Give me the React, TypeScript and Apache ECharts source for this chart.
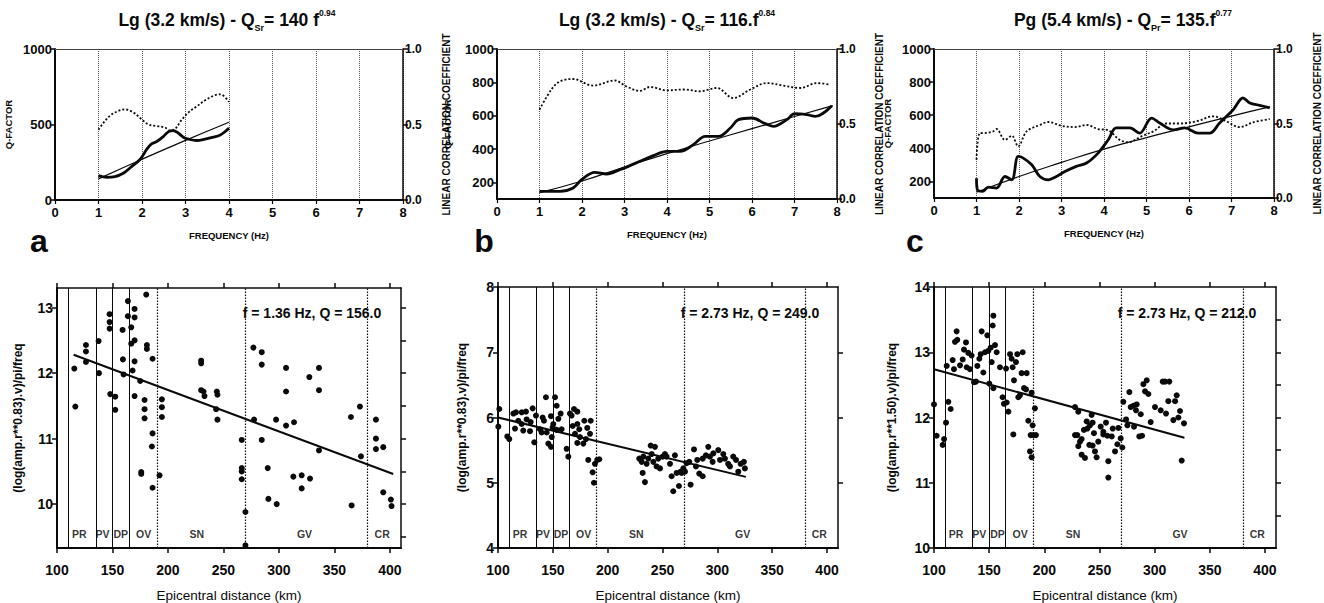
import React, { useEffect, useRef } from 'react';
import * as echarts from 'echarts';

const FONT = '"Liberation Sans", Arial, Helvetica, sans-serif';
const INK = '#0a0a0a';

// ---------------- Top panels : Q(f) and correlation ----------------
const titlesTop = [
  'Lg (3.2 km/s) - Q{sub|Sr}= 140 f{sup|0.94}',
  'Lg (3.2 km/s) - Q{sub|Sr}= 116.f{sup|0.84}',
  'Pg (5.4 km/s) - Q{sub|Pr}= 135.f{sup|0.77}',
];
const freqTicks = [0, 1, 2, 3, 4, 5, 6, 7, 8];
const qTicksA = [0, 500, 1000];
const qTicksBC = [200, 400, 600, 800, 1000];
const rTicks = [0, 0.5, 1];

const qFreqA = [1.0, 1.19, 1.38, 1.57, 1.76, 1.96, 2.11, 2.22, 2.34, 2.49, 2.61, 2.72, 2.84, 2.95, 3.07, 3.26, 3.45, 3.64, 3.8, 3.91, 4.0];
const qValA = [161, 150, 155, 177, 221, 270, 336, 372, 387, 420, 453, 460, 442, 416, 403, 394, 403, 416, 431, 453, 476];
const rFreqA = [1.0, 1.11, 1.27, 1.46, 1.61, 1.8, 1.99, 2.15, 2.34, 2.53, 2.65, 2.76, 2.91, 3.07, 3.26, 3.45, 3.64, 3.8, 4.0];
const rValA = [0.465, 0.51, 0.56, 0.59, 0.6, 0.58, 0.535, 0.5, 0.49, 0.48, 0.46, 0.47, 0.53, 0.58, 0.62, 0.66, 0.69, 0.7, 0.65];
const fitFreqA = [1, 2, 3, 4];
const fitQA = [140, 270, 395, 515];

const qFreqB = [1.0, 1.48, 1.79, 1.99, 2.3, 2.58, 2.89, 3.09, 3.36, 3.68, 3.99, 4.31, 4.62, 4.9, 5.21, 5.49, 5.68, 6.0, 6.31, 6.51, 6.82, 7.0, 7.29, 7.49, 7.88];
const qValB = [146, 146, 166, 216, 260, 250, 276, 296, 326, 360, 386, 386, 426, 476, 476, 526, 576, 586, 552, 536, 576, 612, 606, 596, 660];
const rFreqB = [1.0, 1.28, 1.48, 1.79, 2.26, 2.77, 3.05, 3.36, 3.6, 3.99, 4.39, 4.78, 5.17, 5.56, 5.96, 6.35, 6.74, 7.14, 7.53, 7.84];
const rValB = [0.596, 0.73, 0.784, 0.8, 0.756, 0.79, 0.75, 0.72, 0.747, 0.724, 0.73, 0.718, 0.74, 0.673, 0.73, 0.773, 0.756, 0.74, 0.773, 0.762];
const fitFreqB = [1, 2, 3, 4, 5, 6, 7, 7.9];
const fitQB = [138, 208, 292, 372, 448, 522, 595, 660];

const qFreqC = [1.0, 1.02, 1.14, 1.28, 1.47, 1.67, 1.83, 1.98, 2.1, 2.3, 2.49, 2.69, 2.88, 3.08, 3.35, 3.59, 3.86, 4.1, 4.29, 4.61, 4.84, 5.12, 5.31, 5.63, 5.9, 6.21, 6.49, 6.72, 7.04, 7.27, 7.43, 7.66, 7.9];
const qValC = [220, 150, 140, 166, 160, 230, 210, 351, 341, 301, 230, 210, 230, 260, 291, 311, 371, 452, 523, 523, 492, 583, 553, 512, 523, 492, 492, 553, 633, 704, 674, 660, 645];
const rFreqC = [1.0, 1.08, 1.2, 1.39, 1.47, 1.67, 1.83, 1.98, 2.18, 2.49, 2.69, 2.99, 3.31, 3.59, 3.86, 4.1, 4.37, 4.57, 4.88, 5.16, 5.47, 5.78, 6.18, 6.57, 6.88, 7.19, 7.51, 7.9];
const rValC = [0.257, 0.436, 0.436, 0.447, 0.463, 0.39, 0.418, 0.347, 0.447, 0.49, 0.51, 0.485, 0.476, 0.49, 0.463, 0.454, 0.39, 0.374, 0.414, 0.447, 0.5, 0.5, 0.515, 0.548, 0.515, 0.476, 0.508, 0.53];
const fitFreqC = [1, 2, 3, 4, 5, 6, 7, 7.9];
const fitQC = [135, 230, 315, 395, 465, 530, 595, 650];

// ---------------- Bottom panels : amplitude decay ----------------
const distTicks = [100, 150, 200, 250, 300, 350, 400];
const boundarySolid = [110, 135, 150, 165];
const boundaryDotted = [190, 270, 380];
const regionNames = ['PR', 'PV', 'DP', 'OV', 'SN', 'GV', 'CR'];
const regionCenters = [120, 141, 157.5, 178, 226, 323, 393];
const yTicksA = [10, 11, 12, 13];
const yRightTicksA = [9.5, 10, 10.5, 11, 11.5, 12, 12.5, 13];
const yTicksB = [4, 5, 6, 7, 8];
const yRightTicksB = [5, 6, 7];
const yTicksC = [10, 11, 12, 13, 14];
const yRightTicksC = [10.5, 11, 11.5, 12, 12.5, 13, 13.5];
const annotations = ['f = 1.36 Hz, Q = 156.0', 'f = 2.73 Hz, Q = 249.0', 'f = 2.73 Hz, Q = 212.0'];
const yNames = ['(log(amp.r**0.83).v)/pi/freq', '(log(amp.r**0.83).v)/pi/freq', '(log(amp.r**1.50).v)/pi/freq'];
const panelLetters = ['a', 'b', 'c'];

const regA = [[115, 12.28], [403, 10.46]];
const regB = [[100, 6.0], [326, 5.09]];
const regC = [[100, 12.74], [327, 11.69]];

const scatterA = [
  [115.6, 12.07], [116.5, 11.49], [126.1, 12.43], [126.1, 12.33], [126.1, 12.17], [137.5, 12.49], [137.8, 12.0],
  [147.4, 12.9], [147.4, 12.78], [147.4, 12.68], [148, 11.68], [152.5, 11.64], [152.5, 11.44], [159.1, 12.66],
  [159.4, 12.21], [160, 11.98], [163.9, 13.1], [163.9, 12.87], [166.9, 12.7], [166.9, 12.45], [168.1, 12.04],
  [169.9, 12.98], [169.9, 12.85], [169.9, 12.5], [169.9, 12.18], [169.9, 11.65], [175, 11.88], [175.9, 10.49],
  [175.9, 10.46], [178.9, 11.59], [178.9, 11.45], [178.9, 11.31], [180.4, 13.2], [181, 12.43], [181, 12.37],
  [186.1, 11.08], [185.5, 10.88], [186.1, 10.25], [186.1, 12.22], [192.4, 10.44], [194.5, 11.6], [194.5, 11.48],
  [194.5, 11.33], [229.9, 12.19], [229.9, 12.15], [229.9, 11.74], [232, 11.72], [232.9, 11.65], [243.4, 11.45],
  [244, 11.72], [244.6, 11.67], [244.6, 11.29], [266.5, 10.98], [266.5, 10.55], [266.5, 10.5], [266.5, 10.38],
  [269.8, 9.88], [269.8, 9.37], [277, 12.39], [277.6, 11.29], [284.5, 12.32], [284.5, 12.13], [284.5, 10.98],
  [289.9, 10.55], [290.5, 10.08], [298, 10.0], [297.4, 11.29], [306.4, 12.08], [306.4, 11.72], [306.4, 11.2],
  [313, 10.42], [313.6, 11.25], [320.5, 10.44], [320.5, 10.24], [328, 10.39], [327.4, 11.94], [336.1, 12.08],
  [336.1, 11.74], [336.1, 10.82], [364.9, 11.33], [365.5, 9.98], [373, 11.49], [373.9, 10.73], [387.4, 11.29],
  [387.4, 11.0], [387.4, 10.84], [394, 10.87], [394, 10.18], [400.9, 10.07], [401.5, 9.97],
];

const scatterB = [
  [101.2, 6.13], [100.3, 5.86], [108.5, 5.71], [110.3, 5.67], [114, 6.06], [116.4, 6.08], [121.6, 6.08],
  [125.5, 6.09], [131.6, 6.14], [118.5, 5.95], [115.5, 5.83], [123, 5.8], [129.2, 5.79], [126.1, 5.97],
  [129.8, 5.93], [121.6, 5.9], [134.6, 6.03], [133.1, 5.62], [138.3, 5.82], [139.8, 5.77], [140.7, 6.0],
  [143.7, 6.31], [141.9, 5.95], [145.9, 5.6], [148.3, 5.55], [148.3, 6.02], [150.4, 5.9], [152, 6.31],
  [153.5, 6.18], [155, 5.98], [157.1, 6.06], [158, 5.82], [153.5, 5.81], [149.8, 5.85], [144.4, 5.77],
  [149, 5.7], [162.6, 5.52], [164.1, 5.4], [165.6, 6.06], [167.1, 6.03], [169.3, 6.13], [172.3, 6.09],
  [168.1, 5.87], [172.3, 5.9], [174.1, 5.82], [170.2, 5.75], [174.7, 5.7], [172.3, 5.61], [178.7, 5.95],
  [177.8, 5.6], [180.2, 5.67], [181.4, 5.84], [184.5, 5.95], [183.9, 5.75], [182.3, 5.35], [186.3, 5.16],
  [188.4, 5.29], [187.5, 5.0], [190.5, 5.35], [192.4, 5.36],
  [228.8, 5.37], [231, 5.32], [232.5, 5.4], [231.9, 5.15], [234, 5.01], [235.5, 5.29], [237, 5.37],
  [239.2, 5.57], [240.1, 5.44], [241.6, 5.32], [243.1, 5.55], [244.6, 5.25], [246.1, 5.37], [247.7, 5.22],
  [250.1, 5.4], [252.2, 5.44], [253.7, 5.4], [256.8, 5.29], [258.3, 5.1], [259.8, 4.87], [261.3, 5.42],
  [262.9, 5.15], [265, 4.95], [266.5, 5.17], [267.4, 5.15], [269, 5.22], [270.5, 5.17], [272, 5.3],
  [274.4, 5.32], [275.6, 4.97], [278.7, 5.51], [280.5, 5.25], [281.7, 5.35], [283.5, 5.14], [286.6, 5.1],
  [286.6, 5.37], [289.6, 5.42], [291.7, 5.55], [293.2, 5.4], [295.7, 5.32], [296.3, 5.45], [300.8, 5.5],
  [302.4, 5.35], [305.4, 5.44], [306.9, 5.37], [309.9, 5.29], [311.5, 5.25], [314.5, 5.4], [317, 5.35],
  [319.1, 5.17], [321.2, 5.29], [324.2, 5.32], [325.1, 5.22],
];

const scatterC = [
  [100, 12.2], [102.4, 11.72], [107.9, 11.58], [109.1, 11.67], [110.9, 11.92], [113, 12.24], [115.1, 12.13],
  [111.5, 12.79], [116.9, 12.88], [118.1, 12.74], [119, 13.16], [120.5, 13.32], [121.1, 13.19], [123.6, 12.8],
  [126, 12.89], [127.2, 13.04], [129, 13.15], [129.6, 12.77], [131.1, 12.99], [132.6, 12.74], [134.1, 12.95],
  [136.3, 12.54], [138.1, 12.55], [139.3, 12.79], [141.1, 12.9], [142.3, 12.97], [143.2, 13.32], [144.7, 12.69],
  [146.2, 13.0], [148.3, 13.26], [149.2, 13.02], [150.1, 12.52], [151.4, 13.07], [152.3, 12.85], [153.2, 13.41],
  [153.8, 13.56], [153.8, 12.45], [155.3, 13.11], [156.8, 13.0], [159.8, 12.77], [162.2, 12.31], [163.4, 12.21],
  [165.3, 12.75], [165.9, 12.23], [167.4, 12.09], [168.9, 12.97], [170.4, 12.9], [171.3, 12.77], [171.9, 11.74],
  [172.5, 12.57], [174.3, 12.85], [175.5, 12.97], [176.4, 12.31], [177.9, 12.34], [179.4, 12.68], [180.4, 13.0],
  [181.6, 12.45], [184, 12.68], [185.5, 11.95], [187, 11.48], [188.5, 11.39], [187.6, 11.73], [189.4, 11.88],
  [190, 11.73], [192.4, 11.73], [191.5, 12.14], [188.5, 12.38], [183.4, 12.43],
  [227.8, 12.16], [230.8, 12.09], [227.8, 11.73], [229.9, 11.73], [230.8, 11.56], [232.3, 11.63], [233.8, 11.67],
  [233.8, 11.43], [236.8, 11.38], [235.9, 11.81], [238.4, 11.94], [239, 11.83], [241.4, 11.88], [240.8, 11.58],
  [242.9, 12.04], [243.8, 11.92], [245, 11.76], [243.8, 11.57], [245.9, 11.48], [247.4, 11.39], [248.9, 11.63],
  [251.1, 11.86], [253.5, 11.78], [255.9, 11.92], [258, 11.33], [258, 11.08], [262, 11.83], [253.5, 11.74],
  [257.1, 11.72], [261.1, 11.71], [267.1, 11.84], [266.2, 11.59], [264.1, 11.48], [269.2, 11.68], [270.7, 11.54],
  [274.1, 11.97], [275.3, 11.88], [271.6, 12.24], [277.1, 12.39], [278.3, 12.16], [280.7, 12.18], [283.7, 12.2],
  [283.1, 12.11], [281.3, 11.86], [287.4, 12.05], [286.1, 11.71], [288.6, 11.72], [289.8, 12.51], [292.8, 12.57],
  [291.3, 12.4], [294.3, 12.36], [296.4, 11.93], [300.3, 12.16], [305.5, 12.11], [307.3, 12.55], [309.4, 12.55],
  [313.3, 12.55], [310.3, 12.06], [312.4, 12.25], [317, 11.96], [318.5, 12.25], [320, 12.34], [321.5, 12.0],
  [323, 12.1], [326.6, 11.91], [324.5, 11.34],
];

const zip = (xs: number[], ys: number[]) => xs.map((x, i) => [x, ys[i]]);

function buildOption() {
  const grid: any[] = [];
  const xAxis: any[] = [];
  const yAxis: any[] = [];
  const series: any[] = [];
  const graphic: any[] = [];
  const lab = { color: INK, fontFamily: FONT, fontWeight: 'bold' as const };

  const tops = [
    { left: 55, width: 348, top: 49, height: 151, qMin: 0, qTicks: qTicksA, q: zip(qFreqA, qValA), r: zip(rFreqA, rValA), fit: zip(fitFreqA, fitQA), qGap: 42, rGap: 38, tx: 227 },
    { left: 497, width: 340, top: 49, height: 150, qMin: 100, qTicks: qTicksBC, q: zip(qFreqB, qValB), r: zip(rFreqB, rValB), fit: zip(fitFreqB, fitQB), qGap: 45, rGap: 37, tx: 667 },
    { left: 934, width: 340, top: 49, height: 149, qMin: 100, qTicks: qTicksBC, q: zip(qFreqC, qValC), r: zip(rFreqC, rValC), fit: zip(fitFreqC, fitQC), qGap: 42, rGap: 38, tx: 1123 },
  ];

  tops.forEach((p, k) => {
    const gi = grid.length;
    grid.push({ left: p.left, top: p.top, width: p.width, height: p.height });
    const xi = xAxis.length;
    xAxis.push({
      type: 'value', gridIndex: gi, min: 0, max: 8, interval: 1, position: 'bottom',
      axisLine: { show: true, onZero: false, lineStyle: { color: INK, width: 2 } },
      axisTick: { show: true, length: 4, customValues: freqTicks, lineStyle: { color: INK, width: 1.2 } },
      axisLabel: { ...lab, fontSize: 13, margin: 6, customValues: freqTicks },
      splitLine: { show: true, lineStyle: { color: '#555', type: 'dotted', width: 1 } },
      name: 'FREQUENCY (Hz)', nameLocation: 'middle', nameGap: 30,
      nameTextStyle: { ...lab, fontSize: 9.5 },
    });
    xAxis.push({
      type: 'value', gridIndex: gi, min: 0, max: 8, position: 'top',
      axisLine: { show: true, onZero: false, lineStyle: { color: '#444', width: 1 } },
      axisTick: { show: false }, axisLabel: { show: false }, splitLine: { show: false },
    });
    const yi = yAxis.length;
    yAxis.push({
      type: 'value', gridIndex: gi, min: p.qMin, max: 1000, position: 'left',
      axisLine: { show: true, onZero: false, lineStyle: { color: INK, width: 2 } },
      axisTick: { show: true, length: 5, customValues: p.qTicks, lineStyle: { color: INK, width: 1.5 } },
      axisLabel: { ...lab, fontSize: 13, margin: 3, customValues: p.qTicks, formatter: (v: number) => String(v) },
      splitLine: { show: false },
      name: 'Q-FACTOR', nameLocation: 'middle', nameGap: p.qGap, nameRotate: 90,
      nameTextStyle: { ...lab, fontSize: 9.5 },
    });
    yAxis.push({
      type: 'value', gridIndex: gi, min: 0, max: 1, position: 'right',
      axisLine: { show: true, onZero: false, lineStyle: { color: INK, width: 1.5 } },
      axisTick: { show: true, length: 5, customValues: rTicks, lineStyle: { color: INK, width: 1.5 } },
      axisLabel: { ...lab, fontSize: 12, margin: 2, customValues: rTicks, formatter: (v: number) => v.toFixed(1) },
      splitLine: { show: false },
      name: 'LINEAR CORRELATION COEFFICIENT', nameLocation: 'middle', nameGap: p.rGap, nameRotate: 90,
      nameTextStyle: { ...lab, fontSize: 10 },
    });
    series.push({ type: 'line', xAxisIndex: xi, yAxisIndex: yi, data: p.q, smooth: 0.35, showSymbol: false, symbol: 'none', lineStyle: { color: INK, width: 2.8 }, z: 4 });
    series.push({ type: 'line', xAxisIndex: xi, yAxisIndex: yi, data: p.fit, smooth: true, showSymbol: false, symbol: 'none', lineStyle: { color: INK, width: 1.2 }, z: 3 });
    series.push({ type: 'line', xAxisIndex: xi, yAxisIndex: yi + 1, data: p.r, smooth: 0.35, showSymbol: false, symbol: 'none', lineStyle: { color: INK, width: 1.8, type: [2, 2] }, z: 3 });

    graphic.push({
      type: 'text', x: p.tx, y: 20,
      style: {
        text: titlesTop[k], fill: INK, fontFamily: FONT, fontSize: 17.5, fontWeight: 'bold',
        align: 'center', verticalAlign: 'middle', textAlign: 'center', textVerticalAlign: 'middle', lineHeight: 24,
        rich: {
          sub: { fontFamily: FONT, fontSize: 9, fontWeight: 'bold', fill: INK, verticalAlign: 'bottom', lineHeight: 24 },
          sup: { fontFamily: FONT, fontSize: 8.5, fontWeight: 'bold', fill: INK, verticalAlign: 'top', lineHeight: 24 },
        },
      },
    });
  });

  const bottoms = [
    { left: 57, width: 344, top: 288, height: 265, yMin: 9.33, yMax: 13.3, yTicks: yTicksA, yRight: yRightTicksA, pts: scatterA, reg: regA, yGap: 33, labelY: 9.55, ax: 312, lx: 39 },
    { left: 498, width: 340, top: 287, height: 266, yMin: 4, yMax: 8, yTicks: yTicksB, yRight: yRightTicksB, pts: scatterB, reg: regB, yGap: 30, labelY: 4.21, ax: 750, lx: 484 },
    { left: 934, width: 342, top: 287, height: 264, yMin: 10, yMax: 14, yTicks: yTicksC, yRight: yRightTicksC, pts: scatterC, reg: regC, yGap: 36, labelY: 10.21, ax: 1187, lx: 915 },
  ];

  bottoms.forEach((p, k) => {
    const gi = grid.length;
    grid.push({ left: p.left, top: p.top, width: p.width, height: p.height });
    const xi = xAxis.length;
    xAxis.push({
      type: 'value', gridIndex: gi, min: 100, max: 410, position: 'bottom',
      axisLine: { show: true, onZero: false, lineStyle: { color: INK, width: 2 } },
      axisTick: { show: true, length: 5, customValues: distTicks, lineStyle: { color: INK, width: 1.5 } },
      axisLabel: { ...lab, fontSize: 14, margin: 15, customValues: distTicks },
      splitLine: { show: false },
      name: 'Epicentral distance (km)', nameLocation: 'middle', nameGap: 40,
      nameTextStyle: { color: INK, fontFamily: FONT, fontSize: 13.5 },
    });
    xAxis.push({
      type: 'value', gridIndex: gi, min: 100, max: 410, position: 'top',
      axisLine: { show: true, onZero: false, lineStyle: { color: INK, width: 1.5 } },
      axisTick: { show: true, length: 5, customValues: distTicks, lineStyle: { color: INK, width: 1.5 } },
      axisLabel: { show: false }, splitLine: { show: false },
    });
    const yi = yAxis.length;
    yAxis.push({
      type: 'value', gridIndex: gi, min: p.yMin, max: p.yMax, position: 'left',
      axisLine: { show: true, onZero: false, lineStyle: { color: INK, width: 2 } },
      axisTick: { show: true, length: 5, customValues: p.yTicks, lineStyle: { color: INK, width: 1.5 } },
      axisLabel: { ...lab, fontSize: 14, margin: 4, customValues: p.yTicks },
      splitLine: { show: false },
      name: yNames[k], nameLocation: 'middle', nameGap: p.yGap, nameRotate: 90,
      nameTextStyle: { ...lab, fontSize: 12 },
    });
    yAxis.push({
      type: 'value', gridIndex: gi, min: p.yMin, max: p.yMax, position: 'right',
      axisLine: { show: true, onZero: false, lineStyle: { color: INK, width: 1.5 } },
      axisTick: { show: true, length: 5, customValues: p.yRight, lineStyle: { color: INK, width: 1.5 } },
      axisLabel: { show: false }, splitLine: { show: false },
    });
    series.push({
      type: 'scatter', xAxisIndex: xi, yAxisIndex: yi, data: p.pts, symbolSize: 6,
      itemStyle: { color: INK, opacity: 1 }, z: 4,
      markLine: {
        silent: true, symbol: ['none', 'none'], label: { show: false },
        lineStyle: { color: INK, width: 1 },
        data: [
          ...boundarySolid.map((v) => ({ xAxis: v, lineStyle: { type: 'solid', color: INK, width: 1 } })),
          ...boundaryDotted.map((v) => ({ xAxis: v, lineStyle: { type: [1.5, 1.5], color: INK, width: 1.2 } })),
        ],
      },
    });
    series.push({ type: 'line', xAxisIndex: xi, yAxisIndex: yi, data: p.reg, showSymbol: false, symbol: 'none', lineStyle: { color: INK, width: 2 }, z: 5 });
    series.push({
      type: 'scatter', xAxisIndex: xi, yAxisIndex: yi, symbolSize: 1, itemStyle: { color: 'rgba(0,0,0,0)' },
      data: regionNames.map((n, i) => [regionCenters[i], p.labelY, n]),
      label: { show: true, position: 'inside', formatter: (d: any) => d.value[2], ...lab, color: '#000', fontSize: 10.5 },
      z: 6,
    });
    graphic.push({
      type: 'text', x: p.ax, y: 313,
      style: { text: annotations[k], fill: INK, fontFamily: FONT, fontSize: 14, fontWeight: 'bold', align: 'center', verticalAlign: 'middle', textAlign: 'center', textVerticalAlign: 'middle' },
    });
    graphic.push({
      type: 'text', x: p.lx, y: 241,
      style: { text: panelLetters[k], fill: INK, fontFamily: FONT, fontSize: 32, fontWeight: 'bold', align: 'center', verticalAlign: 'middle', textAlign: 'center', textVerticalAlign: 'middle' },
    });
  });

  return {
    animation: false,
    backgroundColor: '#ffffff',
    textStyle: { fontFamily: FONT },
    grid, xAxis, yAxis, series, graphic,
  };
}

export default function App() {
  const ref = useRef<HTMLDivElement>(null);
  useEffect(() => {
    document.body.style.margin = '0';
    if (!ref.current) return;
    const chart = echarts.init(ref.current, undefined, { renderer: 'svg' });
    chart.setOption(buildOption() as any);
    return () => chart.dispose();
  }, []);
  return <div ref={ref} style={{ width: 1324, height: 603, background: '#fff' }} />;
}
